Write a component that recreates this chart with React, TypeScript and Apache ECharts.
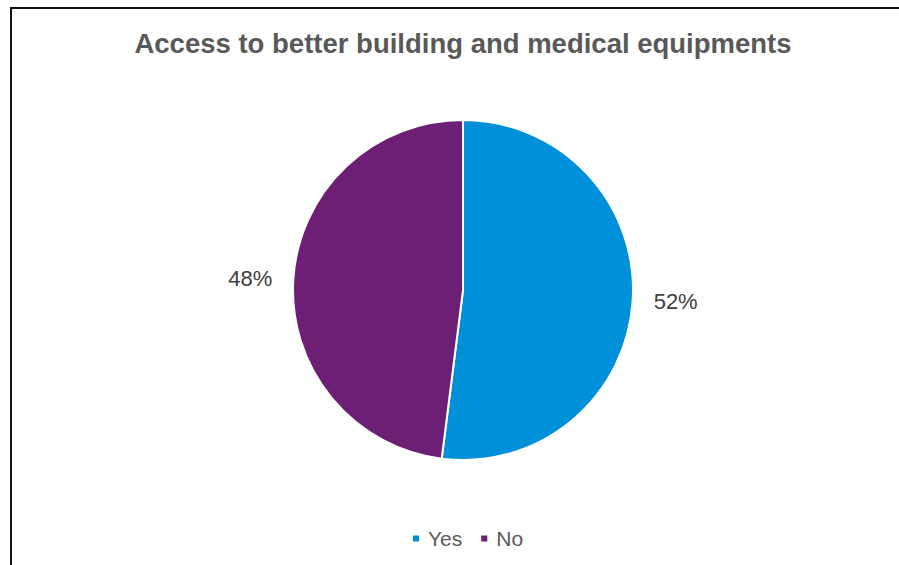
import React, { useEffect, useRef } from "react";
import * as echarts from "echarts";

const titleText = "Access to better building and medical equipments";
const categories = ["Yes", "No"];
const values = [52, 48];
const colors = ["#0090DA", "#6D1F76"];

export default function App() {
  const ref = useRef<HTMLDivElement>(null);
  useEffect(() => {
    if (!ref.current) return;
    const chart = echarts.init(ref.current, undefined, { renderer: "svg" });
    chart.setOption({
      animation: false,
      backgroundColor: "#ffffff",
      textStyle: { fontFamily: "'Liberation Sans', Arial, sans-serif" },
      title: {
        text: titleText,
        left: 458,
        textAlign: "center",
        top: 24,
        textStyle: {
          fontFamily: "'Liberation Sans', Arial, sans-serif",
          fontSize: 27.5,
          fontWeight: "bold",
          color: "#595959",
        },
      },
      legend: {
        data: categories,
        bottom: 11,
        left: 406,
        icon: "rect",
        itemWidth: 8,
        itemHeight: 8,
        itemGap: 17,
        textStyle: {
          fontFamily: "'Liberation Sans', Arial, sans-serif",
          fontSize: 21,
          color: "#595959",
          padding: [0, 0, 0, 3],
        },
      },
      graphic: [
        {
          type: "rect",
          shape: { x: 11, y: 8, width: 920, height: 600 },
          style: { fill: "none", stroke: "#111111", lineWidth: 2 },
          silent: true,
          z: 100,
        },
      ],
      series: [
        {
          type: "pie",
          center: [463, 290],
          radius: [0, 170],
          startAngle: 90,
          clockwise: true,
          data: categories.map((c, i) => ({
            name: c,
            value: values[i],
            itemStyle: { color: colors[i] },
          })),
          itemStyle: { borderColor: "#ffffff", borderWidth: 2 },
          label: {
            show: true,
            position: "outside",
            formatter: "{d}%",
            fontFamily: "'Liberation Sans', Arial, sans-serif",
            fontSize: 22,
            color: "#404040",
          },
          labelLine: { show: false, length: 11, length2: 5 },
          emphasis: { disabled: true },
        },
      ],
    });
    return () => chart.dispose();
  }, []);
  return (
    <div
      ref={ref}
      style={{ position: "fixed", left: 0, top: 0, width: 899, height: 565 }}
    />
  );
}
